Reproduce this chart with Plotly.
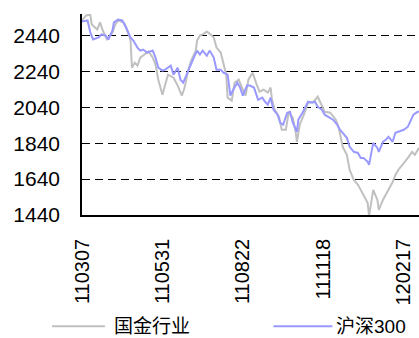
import plotly.graph_objects as go

# Trading-day index (0 = 2011-03-07) and closing levels
gj_days = [0, 3, 6, 7, 11, 13, 15, 18, 22, 24, 26, 30, 32, 35, 36, 38, 40, 42, 45, 48,
           51, 53, 55, 58, 60, 62, 66, 69, 72, 74, 77, 79, 82, 83, 85, 87, 90, 92, 95, 97,
           100, 102, 104, 105, 108, 110, 113, 116, 118, 120, 123, 126, 128, 131, 134, 136, 137, 139, 142, 144,
           147, 149, 152, 154, 155, 157, 160, 163, 167, 170, 173, 175, 179, 183, 185, 186, 188, 191, 193, 196,
           199, 201, 203, 206, 207, 208, 210, 213, 214, 217, 219, 221, 224, 226, 228, 231, 233, 235, 238, 240, 243]
gj_vals = [2524, 2552, 2557, 2502, 2474, 2513, 2468, 2418, 2457, 2502, 2524, 2513, 2485, 2412, 2261, 2289, 2272, 2317, 2334, 2351,
           2317, 2278, 2194, 2110, 2166, 2222, 2205, 2161, 2105, 2150, 2261, 2306, 2356, 2412, 2440, 2446, 2462, 2451, 2429, 2373,
           2345, 2289, 2222, 2094, 2077, 2177, 2194, 2138, 2105, 2194, 2233, 2166, 2127, 2138, 2122, 2150, 2082, 2027, 1988, 1915,
           1915, 2010, 1982, 1904, 1848, 1943, 1999, 2066, 2071, 2099, 2043, 2015, 2010, 1971, 1932, 1887, 1820, 1775, 1691, 1635,
           1608, 1580, 1552, 1507, 1434, 1485, 1580, 1524, 1468, 1524, 1552, 1580, 1624, 1663, 1691, 1719, 1736, 1758, 1792, 1775, 1814]

hs_days = [0, 4, 6, 8, 12, 14, 17, 19, 22, 23, 26, 29, 31, 33, 35, 37, 40, 42, 44, 47,
           51, 53, 55, 58, 60, 64, 66, 69, 71, 73, 76, 78, 80, 83, 85, 87, 90, 92, 95, 97,
           100, 102, 105, 107, 109, 112, 114, 116, 119, 121, 124, 127, 130, 132, 134, 136, 138, 141, 143, 145,
           148, 150, 152, 155, 156, 159, 161, 163, 166, 168, 170, 173, 175, 179, 181, 184, 186, 188, 191, 193,
           196, 199, 201, 203, 206, 207, 209, 210, 213, 214, 217, 219, 221, 224, 226, 228, 232, 235, 237, 239, 242, 243]
hs_vals = [2518, 2524, 2457, 2418, 2429, 2446, 2440, 2418, 2468, 2513, 2529, 2524, 2496, 2457, 2429, 2412, 2373, 2356, 2362, 2345,
           2356, 2317, 2261, 2245, 2250, 2272, 2222, 2261, 2194, 2177, 2233, 2278, 2306, 2356, 2334, 2356, 2328, 2356, 2317, 2250,
           2250, 2233, 2222, 2105, 2138, 2177, 2150, 2105, 2161, 2161, 2150, 2082, 2094, 2071, 2055, 2094, 2027, 1999, 1954, 1943,
           2010, 2015, 1954, 1904, 1971, 2010, 2038, 2071, 2066, 2071, 2043, 2027, 1999, 1982, 1971, 1943, 1915, 1898, 1870, 1820,
           1792, 1786, 1758, 1758, 1736, 1719, 1803, 1842, 1814, 1792, 1848, 1859, 1876, 1848, 1898, 1904, 1915, 1932, 1971, 1999, 2015, 2015]

tick_days = [0, 58, 116, 174, 232]
tick_labels = ["110307", "110531", "110822", "111118", "120217"]
y_ticks = [1440, 1640, 1840, 2040, 2240, 2440]

series_names = ["国金行业", "沪深300"]
series_colors = ["#C0C0C0", "#9999FF"]

FONT = "Liberation Sans, Arial, Noto Sans CJK SC, sans-serif"

fig = go.Figure()
fig.add_trace(go.Scatter(x=gj_days, y=gj_vals, mode="lines", name=series_names[0],
                         line=dict(color=series_colors[0], width=2), showlegend=False))
fig.add_trace(go.Scatter(x=hs_days, y=hs_vals, mode="lines", name=series_names[1],
                         line=dict(color=series_colors[1], width=2), showlegend=False))

# Legend drawn as paper-space line samples with labels beside them
legend_y = -0.553
legend_pos = [(-0.089, 0.068, 0.09), (0.568, 0.743, 0.747)]
for (x0, x1, tx), name, color in zip(legend_pos, series_names, series_colors):
    fig.add_shape(type="line", xref="paper", yref="paper", x0=x0, x1=x1,
                  y0=legend_y, y1=legend_y, line=dict(color=color, width=2))
    fig.add_annotation(xref="paper", yref="paper", x=tx, y=legend_y, text=name,
                       showarrow=False, xanchor="left", yanchor="middle",
                       font=dict(family=FONT, size=19, color="#000000"))

fig.update_layout(
    width=419, height=338,
    margin=dict(l=82, r=0, t=14, b=123),
    paper_bgcolor="white", plot_bgcolor="white",
    font=dict(family=FONT, size=20, color="#000000"),
)
fig.update_xaxes(
    range=[0, 243], tickmode="array", tickvals=tick_days, ticktext=tick_labels,
    tickangle=-90, showgrid=False, zeroline=False,
    showline=True, linecolor="#000000", linewidth=1.5,
    ticks="", ticklabelstandoff=14, tickfont=dict(size=20),
)
fig.update_yaxes(
    range=[1440, 2560], tickmode="array", tickvals=y_ticks,
    showgrid=True, gridcolor="#000000", gridwidth=1, griddash="8px,5px",
    zeroline=False, showline=True, linecolor="#000000", linewidth=1.5,
    ticks="", ticklabelstandoff=16, tickfont=dict(size=21),
)

fig.write_html("out.html")
